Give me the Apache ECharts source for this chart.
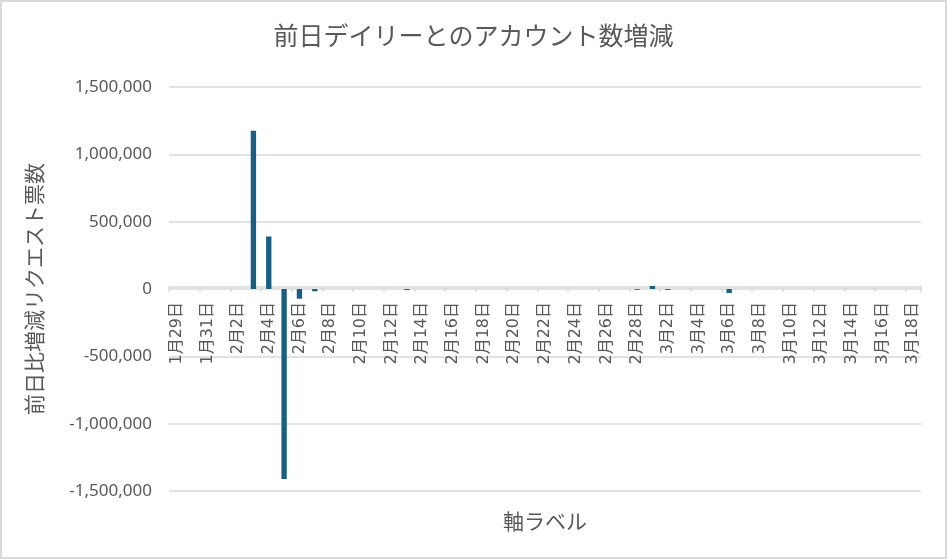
<!DOCTYPE html>
<html>
<head>
    <meta charset="utf-8">
    <title>ECharts</title>
    <script src="https://cdn.jsdelivr.net/npm/echarts@6/dist/echarts.min.js"></script>
    <style>
        body { margin: 0; }
        #main { width: 947px; height: 559px; box-sizing: border-box; border: 2px solid #d9d9d9; }
    </style>
</head>
<body>
<div id="main"></div>
<script type="text/javascript">
    // 日付（カテゴリ）
    var dateData = [
        '1月29日', '1月30日', '1月31日',
        '2月1日', '2月2日', '2月3日', '2月4日', '2月5日', '2月6日', '2月7日', '2月8日', '2月9日', '2月10日',
        '2月11日', '2月12日', '2月13日', '2月14日', '2月15日', '2月16日', '2月17日', '2月18日', '2月19日', '2月20日',
        '2月21日', '2月22日', '2月23日', '2月24日', '2月25日', '2月26日', '2月27日', '2月28日',
        '3月1日', '3月2日', '3月3日', '3月4日', '3月5日', '3月6日', '3月7日', '3月8日', '3月9日', '3月10日',
        '3月11日', '3月12日', '3月13日', '3月14日', '3月15日', '3月16日', '3月17日', '3月18日'
    ];
    // 前日比増減
    var diffData = [
        0, 0, 0,
        0, 0, 1175000, 390000, -1410000, -72000, -17000, 0, 0, 0,
        0, 0, -8000, 0, 0, 0, 0, 0, 0, 0,
        0, 0, 0, 0, 0, 0, 0, -6000,
        22000, -7000, 0, 0, 0, -30000, 0, 0, 0, 0,
        0, 0, 0, 0, 0, 0, 0, 0
    ];
    var yTicks = { min: -1500000, max: 1500000, interval: 500000 };

    var font = '"Noto Sans CJK JP", "Noto Sans", sans-serif';
    var labelFont = '"Noto Sans", "Noto Sans CJK JP", sans-serif';
    var dateFont = '"DejaVu Sans", "Noto Sans CJK JP", sans-serif';
    var myChart = echarts.init(document.getElementById('main'));

    // グリッド：上85 / 下493 → 0の位置は中央
    var gridTop = 85, gridBottom = 66, plotH = 559 - gridTop - gridBottom;

    var option = {
        animation: false,
        textStyle: { fontFamily: font },
        title: {
            text: '前日デイリーとのアカウント数増減',
            left: 'center',
            top: 16,
            textStyle: { fontFamily: font, fontSize: 25, fontWeight: 'normal', color: '#595959' }
        },
        grid: { left: 167, right: 24, top: gridTop, bottom: gridBottom, outerBoundsMode: 'none' },
        xAxis: {
            type: 'category',
            data: dateData,
            boundaryGap: true,
            offset: -plotH / 2,   // 軸を0の位置へ
            name: '軸ラベル',
            nameLocation: 'middle',
            nameGap: 224,
            nameTextStyle: { fontFamily: font, fontSize: 21, color: '#595959' },
            axisLine: { onZero: false, lineStyle: { color: '#d9d9d9', width: 1.5 } },
            axisTick: { show: true, interval: 1, length: 5, lineStyle: { color: '#d9d9d9', width: 1.5 } },
            axisLabel: {
                interval: 1,
                rotate: 90,
                margin: 15,
                padding: [10, 0, 0, 0],
                fontFamily: dateFont,
                fontSize: 16,
                color: '#595959'
            }
        },
        yAxis: {
            type: 'value',
            min: yTicks.min,
            max: yTicks.max,
            interval: yTicks.interval,
            name: '前日比増減リクエスト票数',
            nameLocation: 'middle',
            nameGap: 124,
            nameTextStyle: { fontFamily: font, fontSize: 21, color: '#595959' },
            axisLine: { show: false },
            axisTick: { show: false },
            axisLabel: {
                margin: 17,
                fontFamily: labelFont,
                fontSize: 17,
                color: '#595959',
                formatter: function (v) { return v.toLocaleString('en-US'); }
            },
            splitLine: { lineStyle: { color: '#d9d9d9', width: 1.5 } }
        },
        series: [
            {
                name: '前日比',
                type: 'bar',
                barWidth: '35%',
                itemStyle: { color: '#1a5e84' },
                data: diffData
            }
        ]
    };

    myChart.setOption(option);
</script>
</body>
</html>
